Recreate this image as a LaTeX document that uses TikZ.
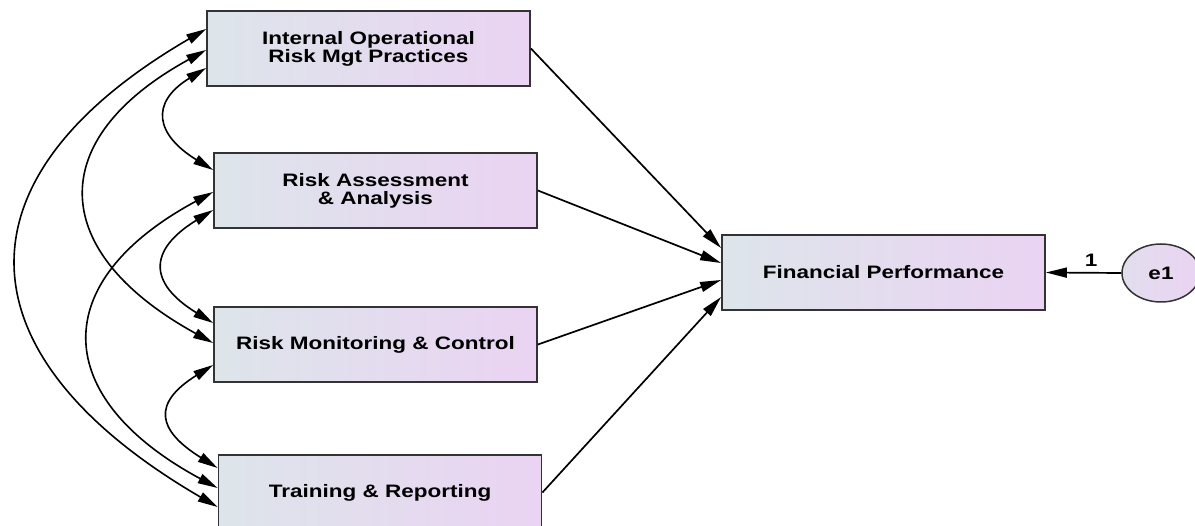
\documentclass[tikz,border=0pt]{standalone}
\usepackage{fontspec}
\setmainfont{Liberation Sans}[FakeStretch=1.25]
\usetikzlibrary{arrows.meta,calc,shapes.geometric}
\definecolor{boxL}{HTML}{DDE5EA}
\definecolor{boxR}{HTML}{EAD3F3}
\definecolor{edgeC}{HTML}{333333}
\begin{document}
\begin{tikzpicture}[x=1pt,y=-1pt,
  box/.style={draw=edgeC, line width=1.8pt, left color=boxL, right color=boxR,
    minimum width=323pt, minimum height=75pt, inner sep=0pt, align=center,
    font=\bfseries\fontsize{18}{18}\selectfont},
  err/.style={ellipse, draw=edgeC, line width=1.5pt, left color=boxL!60!boxR, right color=boxR,
    minimum width=78pt, minimum height=58pt, inner sep=0pt,
    font=\bfseries\fontsize{18}{18}\selectfont},
  regpath/.style={line width=1.7pt, -{Triangle[length=21pt,width=10pt]}},
  cov/.style={line width=1.6pt, {Triangle[length=20pt,width=10pt]}-{Triangle[length=20pt,width=10pt]}},
  lbl/.style={font=\bfseries\fontsize{18}{18}\selectfont}]
\useasboundingbox (0,0) rectangle (1195,526);
\clip (0,0) rectangle (1195,526);
\node[box] (b1) at (368.5,48.5) {Internal Operational\\Risk Mgt Practices};
\node[box] (b2) at (375.5,190.5) {Risk Assessment\\ \& Analysis};
\node[box] (b3) at (375.5,344.5) {Risk Monitoring \& Control};
\node[box] (b4) at (380,492.5) {Training \& Reporting};
\node[box] (fp) at (883.5,272.5) {Financial Performance};
\node[err] (e1) at (1161,273) {e1};
% regression paths
\draw[regpath] (b1.east) -- ([yshift=24.5pt]fp.west);
\draw[regpath] (b2.east) -- ([yshift=9.5pt]fp.west);
\draw[regpath] (b3.east) -- ([yshift=-7.5pt]fp.west);
\draw[regpath] (b4.east) -- ([yshift=-24.5pt]fp.west);
\draw[regpath] (e1.west) -- node[lbl, above, pos=0.4, yshift=2pt] {1} (fp.east);
% covariances
\draw[cov] ([yshift=-19.5pt]b1.west) .. controls +(-57,35) and +(-57,-35) .. ([yshift=20.5pt]b2.west);
\draw[cov] ([yshift=-19.5pt]b2.west) .. controls +(-65,40) and +(-65,-40) .. ([yshift=21.5pt]b3.west);
\draw[cov] ([yshift=-20.5pt]b3.west) .. controls +(-61,38) and +(-61,-38) .. ([yshift=24.5pt]b4.west);
\draw[cov] ([yshift=-1.5pt]b1.west) .. controls +(-164,90) and +(-164,-90) .. ([yshift=1.5pt]b3.west);
\draw[cov] ([yshift=-1.5pt]b2.west) .. controls +(-167,90) and +(-167,-90) .. ([yshift=4.5pt]b4.west);
\draw[cov] ([yshift=19.5pt]b1.west) .. controls +(-258,150) and +(-258,-150) .. ([yshift=-14.5pt]b4.west);
\end{tikzpicture}
\end{document}
